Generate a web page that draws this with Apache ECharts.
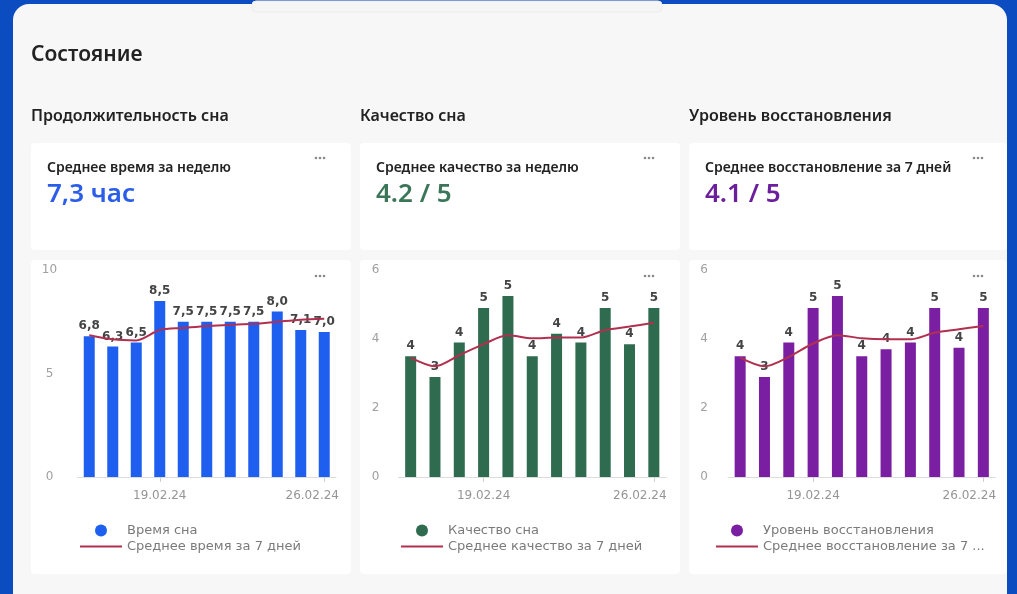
<!DOCTYPE html>
<html>
<head>
<meta charset="utf-8">
<script src="https://cdn.jsdelivr.net/npm/echarts@6/dist/echarts.min.js"></script>
<style>
  html, body { margin: 0; padding: 0; background: #0b4cc0; }
  #main { width: 1017px; height: 594px; }
</style>
</head>
<body>
<div id="main"></div>
<script>
// days shown on the x axis (only two of them get a label)
var dates = ['16.02.24', '17.02.24', '18.02.24', '19.02.24', '20.02.24', '21.02.24',
             '22.02.24', '23.02.24', '24.02.24', '25.02.24', '26.02.24'];
var shownDates = ['19.02.24', '26.02.24'];

// Продолжительность сна
var sleepHours = [6.8, 6.3, 6.5, 8.5, 7.5, 7.5, 7.5, 7.5, 8.0, 7.1, 7.0];
var sleepAvg7 = [6.85, 6.65, 6.6, 7.1, 7.2, 7.3, 7.35, 7.4, 7.5, 7.6, 7.65];

// Качество сна
var sleepQuality = [3.5, 2.9, 3.9, 4.9, 5.25, 3.5, 4.15, 3.9, 4.9, 3.85, 4.9];
var qualityAvg7 = [3.46, 3.21, 3.53, 3.85, 4.11, 4.02, 4.04, 4.04, 4.26, 4.36, 4.47];

// Уровень восстановления
var recovery = [3.5, 2.9, 3.9, 4.9, 5.25, 3.5, 3.7, 3.9, 4.9, 3.75, 4.9];
var recoveryAvg7 = [3.46, 3.21, 3.48, 3.87, 4.11, 4.02, 3.99, 3.99, 4.18, 4.28, 4.38];

var uiFont = '"Noto Sans", sans-serif';
var chartFont = '"DejaVu Sans", sans-serif';
var lineColor = '#b2304f';

var charts = [
  { title: 'Продолжительность сна', kpiTitle: 'Среднее время за неделю', kpi: '7,3 час', kpiColor: '#2a5ee8',
    barName: 'Время сна', lineName: 'Среднее время за 7 дней', bars: sleepHours, line: sleepAvg7,
    color: '#1f5ff0', max: 10, interval: 5, x: 31, gridLeft: 77.5, gridWidth: 258.5, yMargin: 28,
    legendLeft: 80, lastPad: 24, fmt: function (v) { return v.toFixed(1).replace('.', ','); } },
  { title: 'Качество сна', kpiTitle: 'Среднее качество за неделю', kpi: '4.2 / 5', kpiColor: '#3a7657',
    barName: 'Качество сна', lineName: 'Среднее качество за 7 дней', bars: sleepQuality, line: qualityAvg7,
    color: '#2e6b4f', max: 6, interval: 2, x: 360, gridLeft: 398.5, gridWidth: 267.5, yMargin: 23,
    legendLeft: 401, lastPad: 28, fmt: function (v) { return String(Math.round(v)); } },
  { title: 'Уровень восстановления', kpiTitle: 'Среднее восстановление за 7 дней', kpi: '4.1 / 5', kpiColor: '#6c1f9c',
    barName: 'Уровень восстановления', lineName: 'Среднее восстановление за 7 дней', bars: recovery, line: recoveryAvg7,
    color: '#7a1fa2', max: 6, interval: 2, x: 689, gridLeft: 728, gridWidth: 267.5, yMargin: 24,
    legendLeft: 716, lastPad: 28, fmt: function (v) { return String(Math.round(v)); } }
];

function dots(x, y) {
  return [0, 1, 2].map(function (k) {
    return { type: 'circle', z: 5, shape: { cx: x + k * 4, cy: y, r: 1.3 }, style: { fill: '#8a8a8a' } };
  });
}

var graphic = [
  { type: 'rect', z: -20, shape: { x: 13, y: 4, width: 994, height: 620, r: 16 }, style: { fill: '#f7f7f7' } },
  { type: 'rect', z: -19, shape: { x: 252, y: 1, width: 410, height: 11, r: 4 }, style: { fill: '#f5f5f5', stroke: '#ececec' } },
  { type: 'text', z: 5, x: 31, y: 55, style: { text: 'Состояние', font: '600 21px ' + uiFont, fill: '#222', verticalAlign: 'middle' } }
];

var grid = [], xAxis = [], yAxis = [], series = [], legend = [];

charts.forEach(function (c, i) {
  var w = i === 2 ? 318 : 320;
  graphic.push(
    { type: 'text', z: 5, x: c.x, y: 116, style: { text: c.title, font: '600 16px ' + uiFont, fill: '#222', verticalAlign: 'middle' } },
    { type: 'rect', z: -10, shape: { x: c.x, y: 143, width: w, height: 107, r: 4 }, style: { fill: '#ffffff' } },
    { type: 'rect', z: -10, shape: { x: c.x, y: 260, width: w, height: 314, r: 4 }, style: { fill: '#ffffff' } },
    { type: 'text', z: 5, x: c.x + 16, y: 168, style: { text: c.kpiTitle, font: '600 14px ' + uiFont, fill: '#222', verticalAlign: 'middle' } },
    { type: 'text', z: 5, x: c.x + 16, y: 195, style: { text: c.kpi, font: '600 26px ' + uiFont, fill: c.kpiColor, verticalAlign: 'middle' } }
  );
  graphic = graphic.concat(dots(c.x + 285, 158), dots(c.x + 285, 276));

  grid.push({ left: c.gridLeft, top: 270, width: c.gridWidth, height: 207 });
  xAxis.push({
    type: 'category', gridIndex: i, data: dates,
    axisLine: { lineStyle: { color: '#dcdcdc' } },
    axisTick: { show: true, alignWithLabel: true, length: 5, lineStyle: { color: '#cfcfcf' },
      interval: function (idx, v) { return shownDates.indexOf(v) >= 0; } },
    axisLabel: {
      color: '#959595', fontSize: 12, fontFamily: chartFont, margin: 13,
      interval: function (idx, v) { return shownDates.indexOf(v) >= 0; },
      formatter: function (v, idx) { return idx === dates.length - 1 ? '{r|' + v + '}' : v; },
      rich: { r: { color: '#959595', fontSize: 12, fontFamily: chartFont, padding: [0, c.lastPad, 0, 0] } }
    }
  });
  yAxis.push({
    type: 'value', gridIndex: i, min: 0, max: c.max, interval: c.interval,
    splitLine: { show: false }, axisLine: { show: false }, axisTick: { show: false },
    axisLabel: { color: '#a0a0a0', fontSize: 12, fontFamily: chartFont, align: 'center', margin: c.yMargin }
  });
  series.push({
    name: c.barName, type: 'bar', xAxisIndex: i, yAxisIndex: i, data: c.bars, barWidth: 11,
    itemStyle: { color: c.color },
    label: { show: true, position: 'top', distance: 4, color: '#444', fontSize: 12,
      fontWeight: 'bold', fontFamily: chartFont,
      formatter: function (p) { return c.fmt(p.value); } }
  }, {
    name: c.lineName, type: 'line', xAxisIndex: i, yAxisIndex: i, data: c.line,
    symbol: 'none', smooth: 0.3, z: 3,
    lineStyle: { color: lineColor, width: 2 }, itemStyle: { color: lineColor }
  });
  legend.push({
    orient: 'vertical', left: c.legendLeft, top: 524, padding: 0,
    itemWidth: 42, itemHeight: 12, itemGap: 3, selectedMode: false,
    data: [{ name: c.barName, icon: 'circle' }, { name: c.lineName, icon: 'path://M0 0 H42 V2 H0 Z' }],
    formatter: function (name) { return name.length > 28 ? name.slice(0, 28) + '...' : name; },
    textStyle: { color: '#7a7a7a', fontSize: 13, fontFamily: chartFont }
  });
});

var myChart = echarts.init(document.getElementById('main'));
myChart.setOption({
  backgroundColor: '#0b4cc0',
  animation: false,
  graphic: graphic,
  grid: grid,
  xAxis: xAxis,
  yAxis: yAxis,
  legend: legend,
  series: series
});
</script>
</body>
</html>
